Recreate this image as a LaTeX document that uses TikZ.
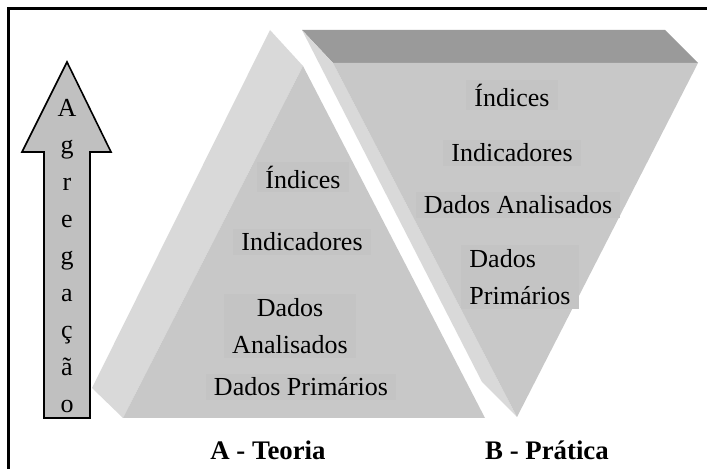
\documentclass[tikz,border=0pt]{standalone}
\usepackage{fontspec}
\setmainfont{Liberation Serif}
\definecolor{sidegray}{HTML}{D9D9D9}
\definecolor{facegray}{HTML}{C8C8C8}
\definecolor{topgray}{HTML}{9A9A9A}
\definecolor{boxgray}{HTML}{C4C4C4}
\definecolor{arrowgray}{HTML}{C0C0C0}
\begin{document}
\begin{tikzpicture}[x=0.5pt,y=-0.5pt,
  txt/.style={font=\fontsize{13}{18.5}\selectfont,align=center},
  lbl/.style={txt,fill=boxgray,inner xsep=4pt,inner ysep=2pt},
  caption/.style={font=\fontsize{13.4}{16}\selectfont\bfseries}]
\useasboundingbox (0,0) rectangle (707,469);
% frame
\draw[line width=1.5pt] (8,469) -- (8,9) -- (707,9);
% aggregation arrow
\draw[fill=arrowgray,line width=0.8pt,line join=miter]
  (44,418) -- (44,152) -- (22,152) -- (67,62) -- (111,152) -- (90,152) -- (90,418) -- cycle;
\node[txt] (agreg) at (67,256) {A\\g\\r\\e\\g\\a\\ç\\ã\\o};
% A - pyramid
\fill[sidegray] (270,30) -- (303,66) -- (123,418) -- (92,388) -- cycle;
\fill[facegray] (303,66) -- (485,418) -- (123,418) -- cycle;
% B - inverted pyramid
\fill[topgray] (302,30) -- (665,30) -- (698,63) -- (333,63) -- cycle;
\fill[sidegray] (302,30) -- (333,63) -- (517,417) -- (482,382) -- cycle;
\fill[facegray] (333,63) -- (698,63) -- (517,417) -- cycle;
% labels A
\node[lbl] (aind) at (303,177) {Índices};
\node[lbl] (aindic) at (302,242) {Indicadores};
\node[lbl] (aanal) at (290,326) {Dados\\Analisados};
\node[lbl] (aprim) at (301,387) {Dados Primários};
% labels B
\node[lbl] (bind) at (512,95) {Índices};
\node[lbl] (bindic) at (512,153) {Indicadores};
\node[lbl] (banal) at (518,205) {Dados Analisados};
\node[lbl,align=left] (bprim) at (520,277) {Dados\\Primários};
% captions
\node[caption] (teoria) at (268,450) {A - Teoria};
\node[caption] (pratica) at (547,450) {B - Prática};
\end{tikzpicture}
\end{document}
